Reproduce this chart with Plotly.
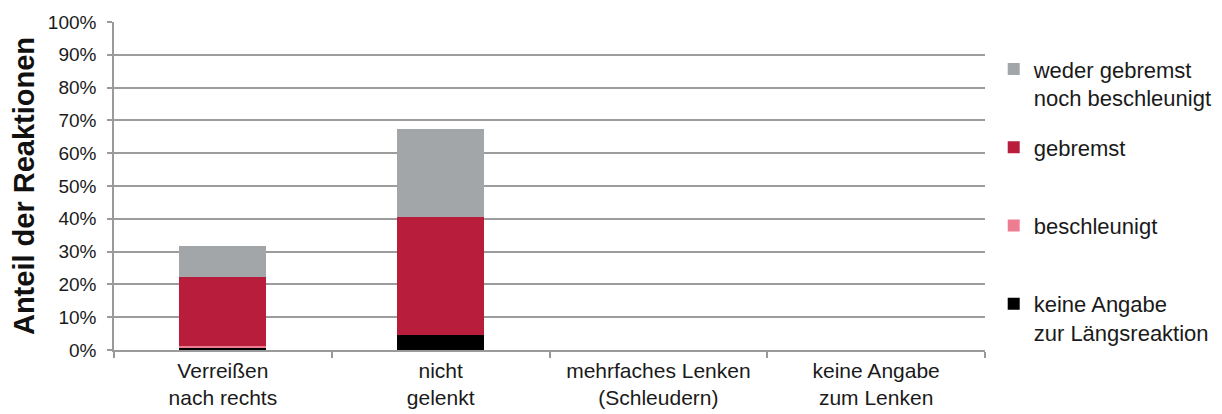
import plotly.graph_objects as go

categories = ["Verreißen<br>nach rechts", "nicht<br>gelenkt",
              "mehrfaches Lenken<br>(Schleudern)", "keine Angabe<br>zum Lenken"]
keine_angabe = [0.6, 4.6, 0, 0]
beschleunigt = [0.7, 0, 0, 0]
gebremst = [21.1, 36.0, 0, 0]
weder = [9.2, 26.8, 0, 0]
y_ticks = list(range(0, 101, 10))
y_tick_labels = [f"{v}%" for v in y_ticks]

series = [
    ("keine Angabe<br>zur Längsreaktion", keine_angabe, "#000000"),
    ("beschleunigt<br> ", beschleunigt, "#EF7D92"),
    ("gebremst<br> ", gebremst, "#B81E3B"),
    ("weder gebremst<br>noch beschleunigt", weder, "#A2A6A8"),
]

fig = go.Figure()
for i, (name, vals, col) in enumerate(series):
    fig.add_trace(go.Bar(x=categories, y=vals, name=name, legendgroup=f"g{i}",
                         legendrank=1000 - i,
                         marker=dict(color=col, line=dict(width=0))))

font = "Liberation Sans, Arial, sans-serif"
fig.update_layout(
    width=1214, height=406,
    barmode="stack", bargap=0.6,
    plot_bgcolor="white", paper_bgcolor="white",
    margin=dict(l=106, r=237, t=14, b=64, autoexpand=False),
    font=dict(family=font, color="#1a1a1a"),
    legend=dict(x=1.01, xanchor="left", y=0.92, yanchor="top",
                traceorder="grouped", tracegroupgap=18,
                valign="top", font=dict(size=22, family=font, color="#1a1a1a")),
    xaxis=dict(showline=True, linecolor="#9a9a9a", linewidth=1.5,
               ticks="outside", tickson="boundaries", ticklen=6,
               tickcolor="#9a9a9a", tickwidth=1.5, automargin=False,
               ticklabelstandoff=1,
               tickfont=dict(size=21, family=font, color="#1a1a1a")),
    yaxis=dict(range=[0, 100], tickvals=y_ticks, ticktext=y_tick_labels,
               showline=True, linecolor="#9a9a9a", linewidth=1.5,
               ticks="outside", ticklen=5, tickcolor="#9a9a9a", tickwidth=1.5,
               gridcolor="#9c9c9c", gridwidth=1.5, automargin=False,
               ticklabelstandoff=7,
               tickfont=dict(size=19, family=font, color="#1a1a1a"),
               title=dict(text="<b>Anteil der Reaktionen</b>",
                          font=dict(size=29, family=font, color="#111111"),
                          standoff=10)),
)
fig.write_html("out.html")
